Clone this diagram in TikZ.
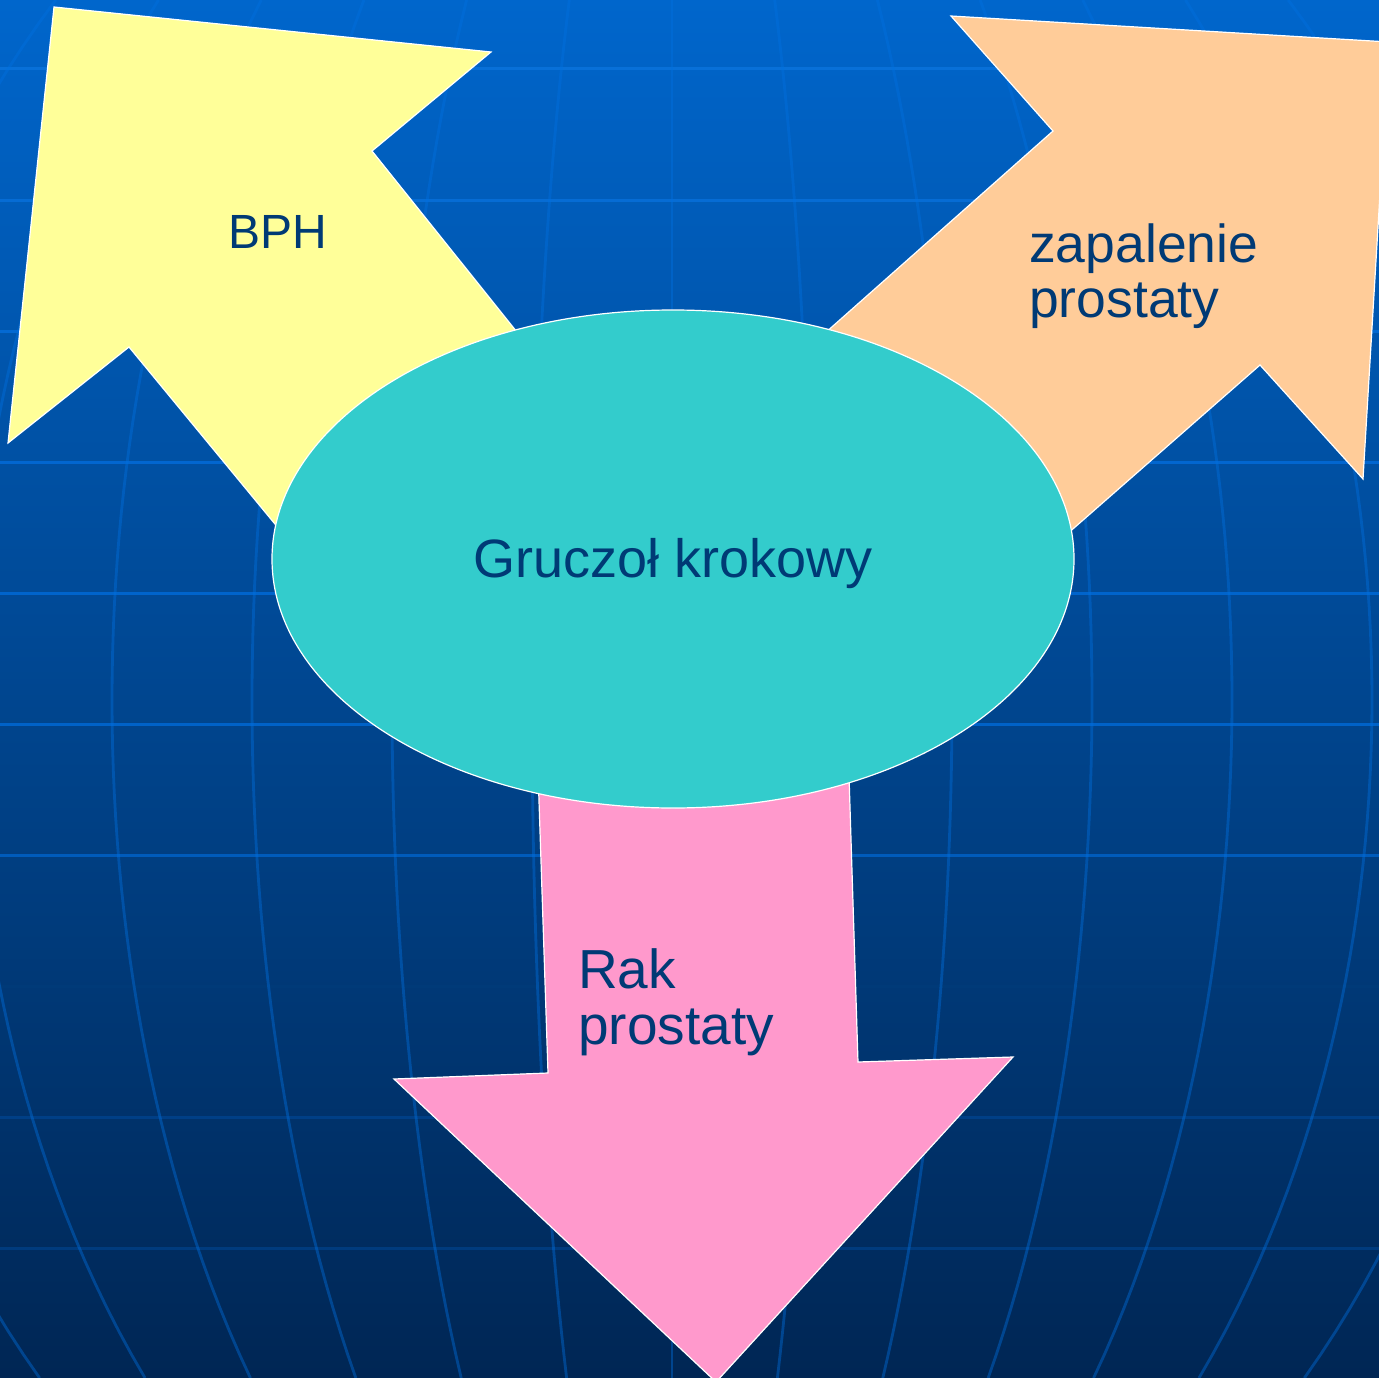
\documentclass[tikz,border=0pt]{standalone}
\usepackage{fontspec}
\setmainfont{Liberation Sans}
\usetikzlibrary{shapes.geometric}
\definecolor{bgtop}{HTML}{0066CC}
\definecolor{bgmid}{HTML}{004892}
\definecolor{bgbot}{HTML}{002654}
\definecolor{merid}{HTML}{0070E0}
\definecolor{fillyellow}{HTML}{FFFF99}
\definecolor{fillpeach}{HTML}{FFCC99}
\definecolor{fillpink}{HTML}{FF99CC}
\definecolor{fillteal}{HTML}{33CCCC}
\definecolor{textblue}{HTML}{003A75}
\begin{document}
\begin{tikzpicture}[x=1pt,y=-1pt,
  meridian/.style={draw=merid, draw opacity=0.42, line width=2.8pt},
  parallel/.style={line width=3pt},
  arrowshape/.style={draw=white, line width=1.2pt, line join=miter},
  lbl/.style={text=textblue, inner sep=0pt, anchor=base west, font=\fontsize{54}{55}\selectfont}]
\useasboundingbox (0,0) rectangle (1379,1378);
\clip (0,0) rectangle (1379,1378);
% background
\shade[top color=bgtop, middle color=bgmid, bottom color=bgbot] (0,0) rectangle (1379,1378);
% parallels
\foreach \yy/\cc in {69/0870D8, 200/066CD4, 331/0469D2, 462/0266D0, 593/0064CC, 724/0062C8, 855/005BBB, 986/003A78, 1117/003F86, 1248/003B7E}{
  \definecolor{parcol}{HTML}{\cc}
  \draw[parallel, draw=parcol] (0,\yy) -- (1379,\yy);
}
% meridians
\foreach \k in {-6,...,6}{
  \draw[meridian] plot[domain=0:1378, samples=60, variable=\t] ({672+\k*140*sqrt(1-((\t-700)/1030)^2)}, {\t});
}
% arrows
\path[arrowshape, fill=fillyellow] (54,7) -- (491,52) -- (372,151) -- (601,437) -- (364,632) -- (129,347) -- (8,443) -- cycle;
\path[arrowshape, fill=fillpeach] (1389,42) -- (1363,479) -- (1260,365) -- (977,613) -- (719,427) -- (1053,131) -- (951,16) -- cycle;
\path[arrowshape, fill=fillpink] (535,680) -- (548,1073) -- (394,1079) -- (716,1382) -- (1013,1057) -- (858,1062) -- (846,680) -- cycle;
% central ellipse
\node[ellipse, draw=white, line width=1.2pt, fill=fillteal, minimum width=802pt, minimum height=498pt, inner sep=0pt,
      text=textblue, font=\fontsize{54}{55}\selectfont, text height=36pt, text depth=0pt] (gland) at (673,559) {Gruczoł krokowy};
% labels
\node[lbl, font=\fontsize{48}{50}\selectfont] (bph) at (228,248) {BPH};
\node[lbl, font=\fontsize{53.5}{55}\selectfont] (zap) at (1029,262) {\begin{tabular}[t]{@{}l@{}}zapalenie\\prostaty\end{tabular}};
\node[lbl, font=\fontsize{55}{56}\selectfont] (rak) at (578,988) {\begin{tabular}[t]{@{}l@{}}Rak\\prostaty\end{tabular}};
\end{tikzpicture}
\end{document}
